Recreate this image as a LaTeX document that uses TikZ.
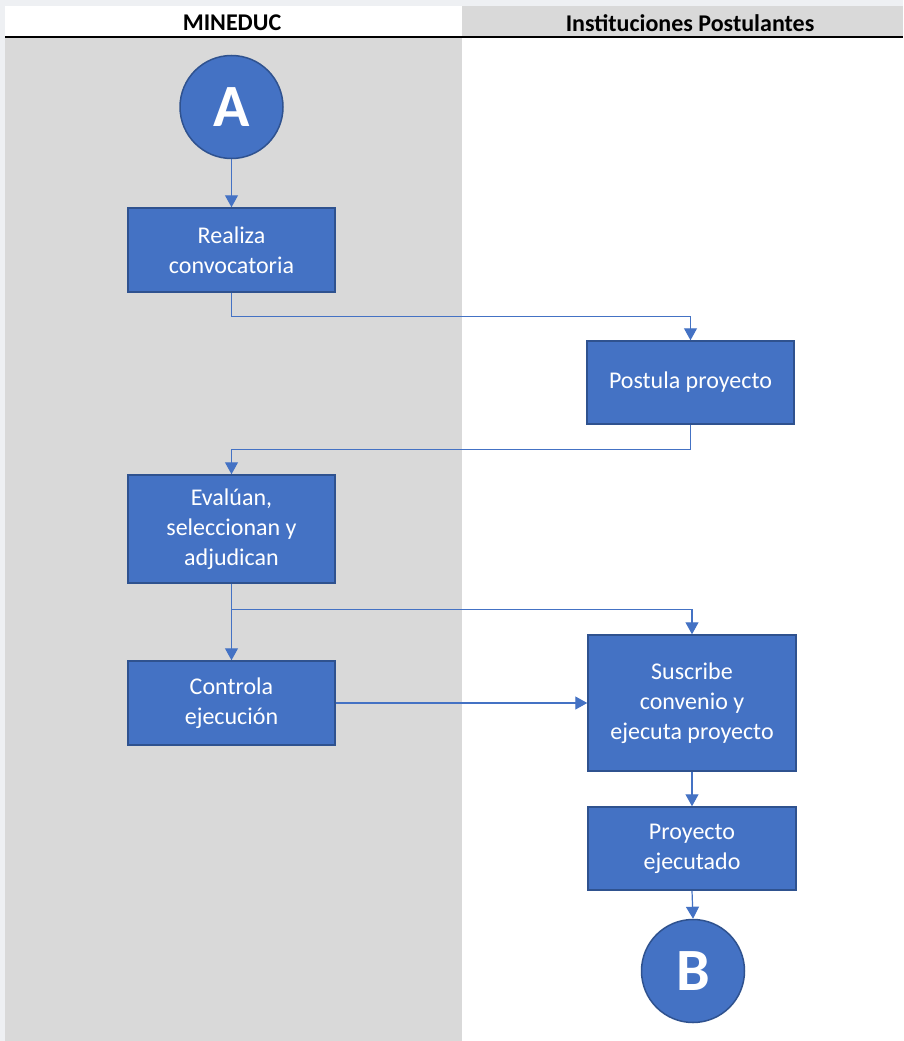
\documentclass[tikz,border=0pt]{standalone}
\usepackage{fontspec}
\setmainfont{Carlito}
\usetikzlibrary{arrows.meta}
\definecolor{nodeblue}{HTML}{4472C4}
\definecolor{nodeedge}{HTML}{2F528F}
\definecolor{lanegray}{HTML}{D9D9D9}
\definecolor{pagebg}{HTML}{EEF0F3}
\begin{document}
\begin{tikzpicture}[x=1pt,y=-1pt,
  box/.style={draw=nodeedge, fill=nodeblue, line width=1.5pt, text=white,
    font=\fontsize{24}{30}\selectfont, align=center, inner sep=0pt},
  conn/.style={circle, draw=nodeedge, fill=nodeblue, line width=1.5pt, text=white,
    minimum size=103pt, inner sep=0pt, font=\fontsize{60}{64}\selectfont\bfseries},
  link/.style={draw=nodeblue, line width=1.2pt, -{Triangle[length=12pt,width=13pt]}},
  lanehead/.style={font=\fontsize{24}{28}\selectfont\bfseries, text=black}]
\useasboundingbox (0,0) rectangle (903,1041);
% background and lanes
\fill[pagebg] (0,0) rectangle (903,1041);
\fill[white] (5,6) rectangle (462,37);
\fill[lanegray] (462,6) rectangle (903,37);
\fill[lanegray] (5,38) rectangle (462,1041);
\fill[white] (462,38) rectangle (903,1041);
\draw[black, line width=2pt] (5,37.5) -- (903,37.5);
\node[lanehead] (h1) at (232,23) {MINEDUC};
\node[lanehead] (h2) at (690,23) {Instituciones Postulantes};
% nodes
\node[conn] (A) at (231.5,107) {A};
\node[box, minimum width=207pt, minimum height=84pt] (rc) at (231.5,250) {Realiza\\convocatoria};
\node[box, minimum width=207pt, minimum height=83pt] (pp) at (690.5,382.5) {Postula proyecto};
\node[box, minimum width=207pt, minimum height=108pt] (ev) at (231.5,529) {Evalúan,\\seleccionan y\\adjudican};
\node[box, minimum width=207pt, minimum height=84pt] (ct) at (231.5,703) {Controla\\ejecución};
\node[box, minimum width=208pt, minimum height=136pt] (su) at (692,703) {Suscribe\\convenio y\\ejecuta proyecto};
\node[box, minimum width=208pt, minimum height=83pt] (pe) at (692,848.5) {Proyecto\\ejecutado};
\node[conn] (B) at (693,971) {B};
% connectors
\draw[link] (A.south) -- (rc.north);
\draw[link] (rc.south) -- ++(0,24) -| (pp.north);
\draw[link] (pp.south) -- ++(0,25) -| (ev.north);
\draw[link] (ev.south) -- (ct.north);
\draw[link] (ev.south) -- ++(0,26) -| (su.north);
\draw[link] (ct.east) -- (su.west);
\draw[link] (su.south) -- (pe.north);
\draw[link] (pe.south) -- (B.north);
\end{tikzpicture}
\end{document}
